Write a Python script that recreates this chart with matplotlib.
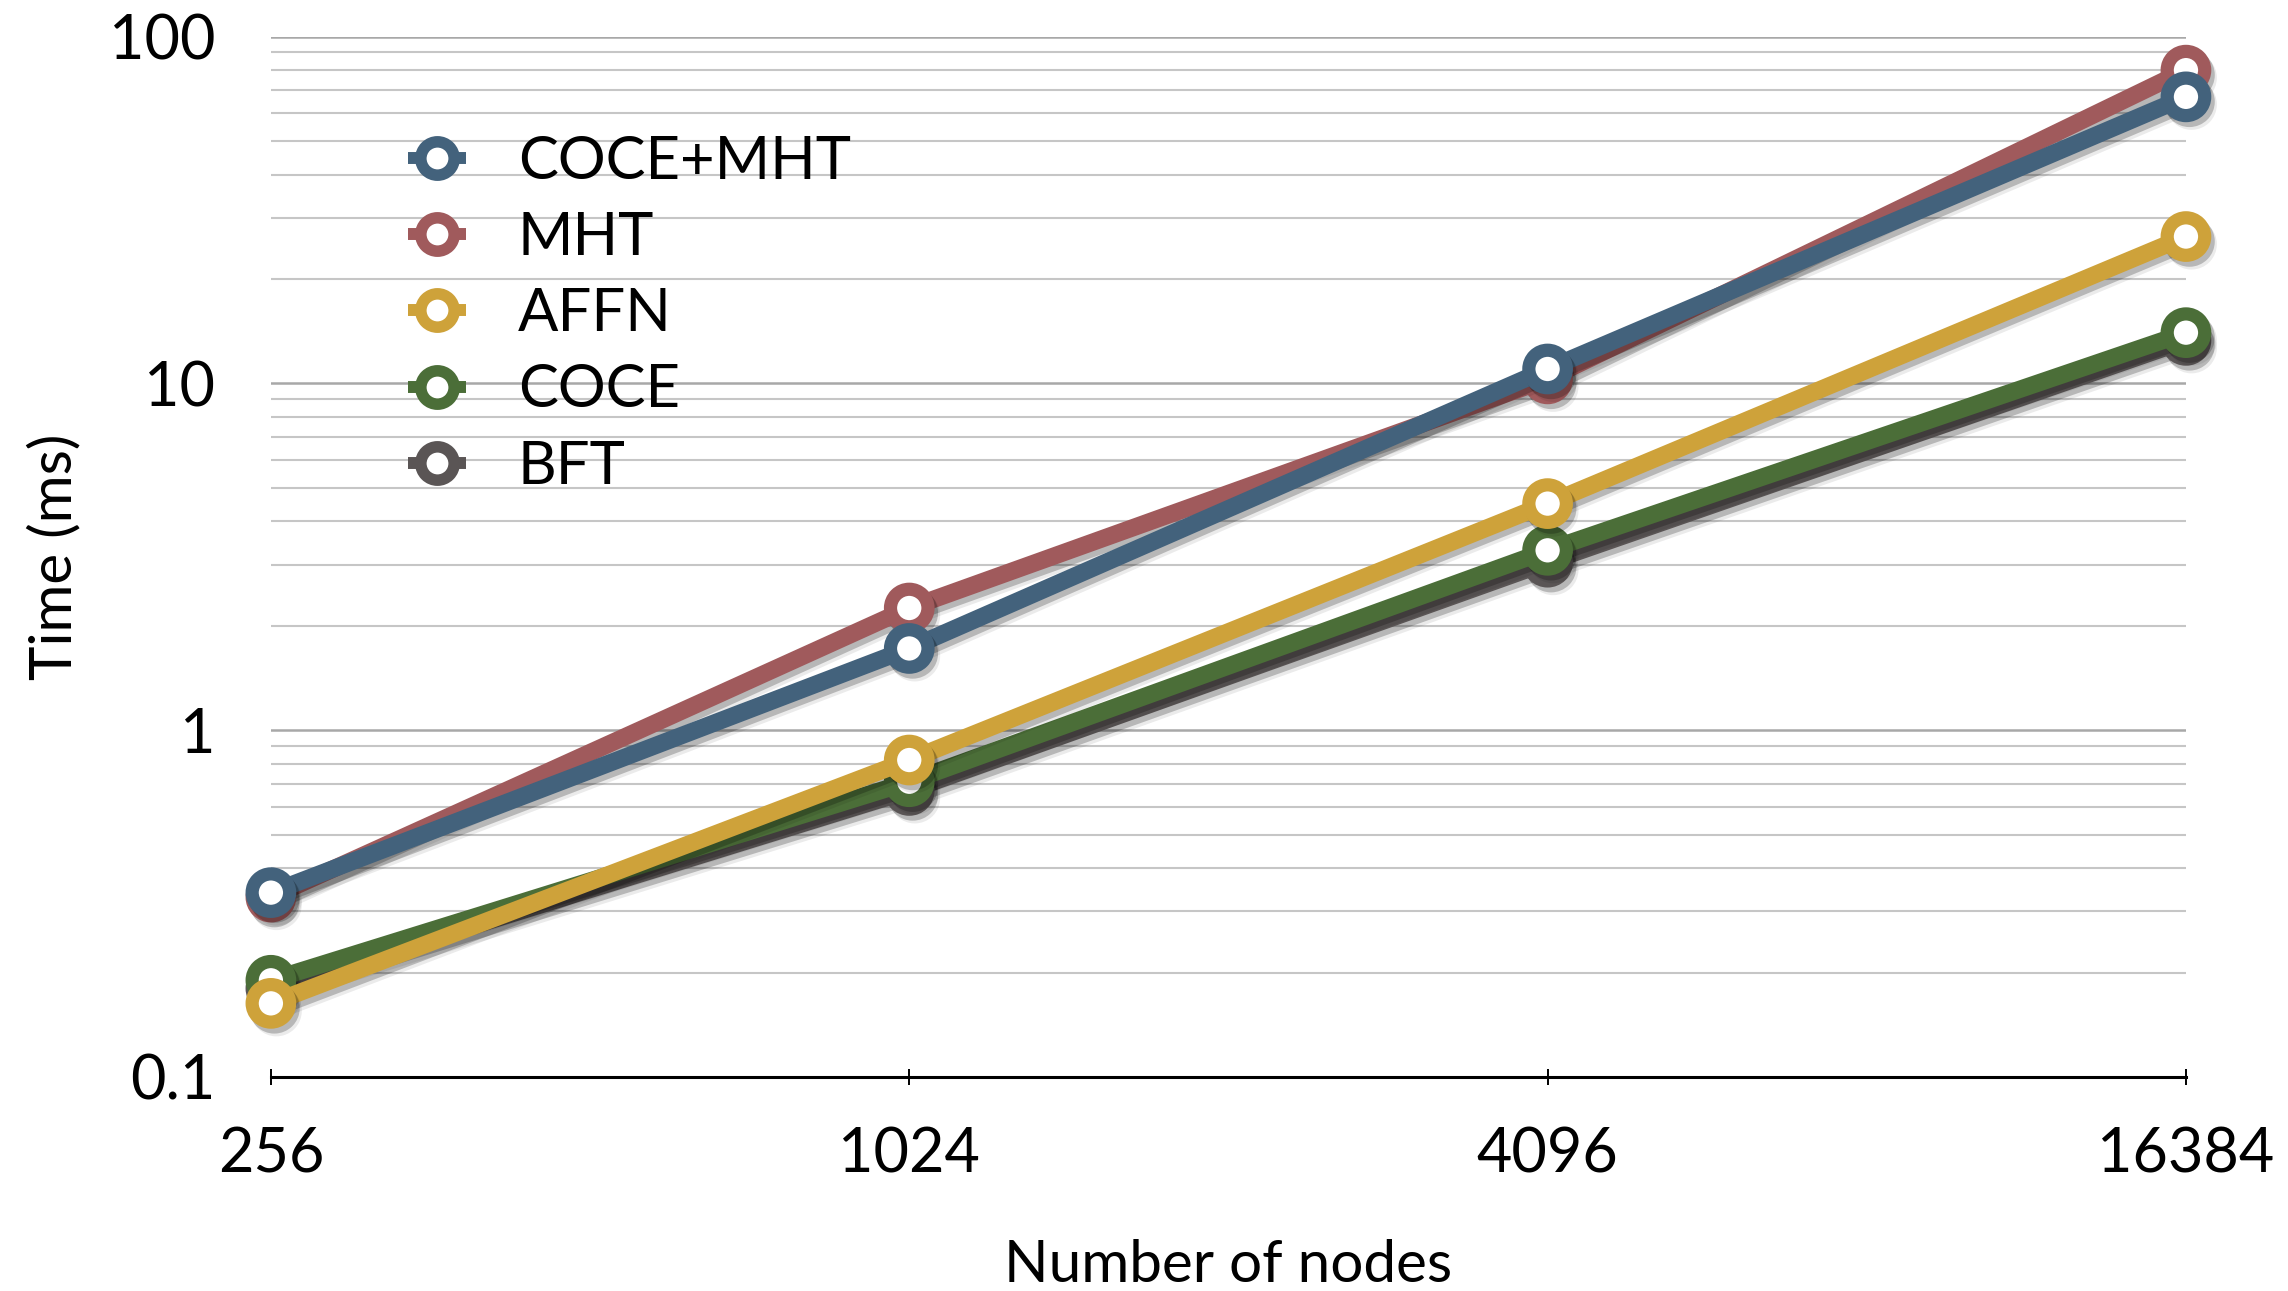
import matplotlib
matplotlib.use("Agg")
import matplotlib.pyplot as plt
import matplotlib.patheffects as pe
from matplotlib.lines import Line2D
from matplotlib.ticker import FixedLocator, NullFormatter, LogLocator

plt.rcParams["font.family"] = ["Lato", "DejaVu Sans"]

# Runtime (ms) per graph size
nodes = [256, 1024, 4096, 16384]
coce_mht = [0.34, 1.72, 11.0, 67.0]
mht = [0.33, 2.25, 10.3, 80.0]
affn = [0.163, 0.82, 4.5, 26.5]
coce = [0.19, 0.71, 3.3, 14.0]
bft = [0.18, 0.67, 3.05, 13.3]

labels = ["COCE+MHT", "MHT", "AFFN", "COCE", "BFT"]
series = [coce_mht, mht, affn, coce, bft]
colors = ["#43627C", "#A05A5C", "#CEA23A", "#4B6E38", "#5A5555"]

y_ticks = [0.1, 1, 10, 100]
y_tick_labels = ["0.1", "1", "10", "100"]

fig = plt.figure(figsize=(22.88, 12.91), dpi=100)
ax = fig.add_axes([0.1184, 0.1658, 0.8370, 0.8059])

shadow = [
    pe.SimpleLineShadow(offset=(2.5, -3.5), shadow_color="black", alpha=0.22),
    pe.SimpleLineShadow(offset=(4, -5.5), shadow_color="black", alpha=0.08),
    pe.Normal(),
]

# draw bottom-most series first so COCE+MHT ends up on top
for vals, col, z in zip(series[::-1], colors[::-1], range(5)):
    ax.plot(nodes, vals, color=col, lw=12.5, marker="o", ms=27, mew=9.5,
            mfc="white", mec=col, solid_capstyle="butt", clip_on=False,
            zorder=3 + z, path_effects=shadow)

ax.set_xscale("log", base=2)
ax.set_yscale("log")
ax.set_xlim(256, 16384)
ax.set_ylim(0.1, 100)

ax.xaxis.set_major_locator(FixedLocator(nodes))
ax.xaxis.set_minor_locator(FixedLocator([]))
ax.set_xticklabels([str(n) for n in nodes])
ax.yaxis.set_major_locator(FixedLocator(y_ticks))
ax.yaxis.set_minor_locator(LogLocator(base=10, subs=range(2, 10)))
ax.yaxis.set_minor_formatter(NullFormatter())
ax.set_yticklabels(y_tick_labels)

ax.grid(which="major", axis="y", color="#A8A8A8", lw=1.8)
ax.grid(which="minor", axis="y", color="#C6C6C6", lw=1.5)
ax.grid(False, axis="x")
ax.set_axisbelow(True)

for side in ["top", "right", "left"]:
    ax.spines[side].set_visible(False)
ax.spines["bottom"].set_linewidth(2.2)
ax.spines["bottom"].set_zorder(2)

ax.tick_params(axis="x", direction="inout", length=11, width=1.4,
               labelsize=44, pad=30)
ax.tick_params(axis="y", which="both", length=0, labelsize=44, pad=40)

ax.set_xlabel("Number of nodes", fontsize=42, labelpad=40)
ax.set_ylabel("Time (ms)", fontsize=42, labelpad=20)

handles = [Line2D([], [], color=c, lw=8.6, marker="o", ms=24, mew=8.3,
                  mfc="white", mec=c, solid_capstyle="butt") for c in colors]
ax.legend(handles, labels, loc="center left", bbox_to_anchor=(0.0715, 0.733),
          frameon=False, fontsize=43, borderpad=0, borderaxespad=0,
          handlelength=0.97, handletextpad=0.87, labelspacing=0.37)

fig.savefig("out.png", dpi=100)
